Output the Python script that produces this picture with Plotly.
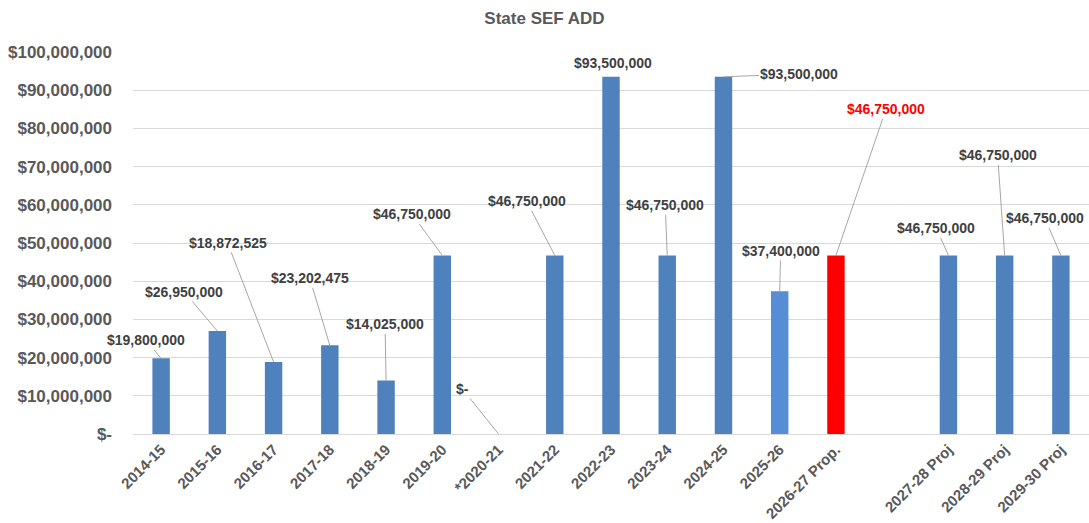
import plotly.graph_objects as go

# ---- data ----
categories = ["2014-15", "2015-16", "2016-17", "2017-18", "2018-19", "2019-20",
              "*2020-21", "2021-22", "2022-23", "2023-24", "2024-25", "2025-26",
              "2026-27 Prop.", " ", "2027-28 Proj", "2028-29 Proj", "2029-30 Proj"]
values = [19800000, 26950000, 18872525, 23202475, 14025000, 46750000,
          0, 46750000, 93500000, 46750000, 93500000, 37400000,
          46750000, None, 46750000, 46750000, 46750000]
y_ticks = [0, 10000000, 20000000, 30000000, 40000000, 50000000,
           60000000, 70000000, 80000000, 90000000, 100000000]

# ---- styles ----
BLUE = "#4F81BD"
LIGHT = "#558ED5"
RED = "#FF0000"
bar_colors = []
for c in categories:
    if c.startswith("2025-26"):
        bar_colors.append(LIGHT)
    elif c.startswith("2026-27"):
        bar_colors.append(RED)
    else:
        bar_colors.append(BLUE)

# label offsets in pixels (text centre relative to bar top)
label_offsets = {
    "2014-15": (-15, -18), "2015-16": (-33, -39), "2016-17": (-46, -119),
    "2017-18": (-20, -67), "2018-19": (-1, -56), "2019-20": (-30, -41),
    "*2020-21": (-36, -45), "2021-22": (-28, -54), "2022-23": None,
    "2023-24": (-2, -50), "2024-25": (76, -3), "2025-26": (1, -40),
    "2026-27 Prop.": (50, -146), "2027-28 Proj": (-12, -27),
    "2028-29 Proj": (-7, -100), "2029-30 Proj": (-16, -37),
}

FONT = "Liberation Sans, Arial"

def money(v):
    return "$-" if v == 0 else "${:,.0f}".format(v)

fig = go.Figure()
fig.add_trace(go.Bar(
    x=categories, y=values, width=0.31,
    marker=dict(color=bar_colors, line=dict(width=0)),
    hoverinfo="skip",
))

annotations = []
for c, v in zip(categories, values):
    if v is None:
        continue
    col = RED if c.startswith("2026-27") else "#404040"
    off = label_offsets[c]
    txt = "<b>" + money(v) + "</b>"
    if off is None:
        annotations.append(dict(
            x=c, y=v, xref="x", yref="y", text=txt, showarrow=False,
            yanchor="bottom", yshift=4, xshift=2,
            font=dict(family=FONT, size=14, color=col)))
    else:
        annotations.append(dict(
            x=c, y=v, xref="x", yref="y", text=txt, showarrow=True,
            ax=off[0], ay=off[1], arrowhead=0, arrowwidth=1,
            arrowcolor="#A6A6A6", standoff=0, startstandoff=0,
            font=dict(family=FONT, size=14, color=col)))

fig.update_layout(
    width=1089, height=523,
    margin=dict(l=133, r=0, t=52, b=89, autoexpand=False),
    paper_bgcolor="white", plot_bgcolor="white",
    showlegend=False,
    title=dict(text="<b>State SEF ADD</b>", x=0.5, xanchor="center",
               y=0.966, yanchor="middle",
               font=dict(family=FONT, size=17, color="#595959")),
    font=dict(family=FONT, color="#595959"),
    annotations=annotations,
)
fig.update_xaxes(
    type="category", categoryorder="array", categoryarray=categories,
    range=[-0.5, len(categories) - 0.5],
    tickangle=-45, showgrid=False, showline=True, linecolor="#D9D9D9",
    linewidth=1, ticks="", automargin=False,
    tickfont=dict(size=15, color="#595959", family=FONT, weight="bold"),
)
fig.update_yaxes(
    range=[0, 100000000], tickvals=y_ticks, ticktext=[money(v) for v in y_ticks],
    showgrid=True, gridcolor="#D9D9D9", gridwidth=1, zeroline=False,
    showline=False, ticks="", ticklabelstandoff=20, automargin=False,
    tickfont=dict(size=17, color="#595959", family=FONT, weight="bold"),
)

fig.write_html("out.html", config={"displayModeBar": False},
               post_script="document.body.style.margin='0';document.body.style.overflow='hidden';")
